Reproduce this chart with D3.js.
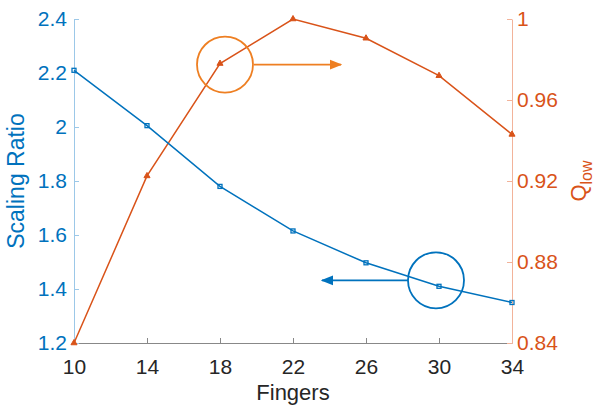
<!DOCTYPE html>
<html>
<head>
<meta charset="utf-8">
<script src="https://cdn.jsdelivr.net/npm/d3@7"></script>
<style>
  body { margin: 0; background: #fff; }
  text { font-family: "Liberation Sans", Arial, sans-serif; }
</style>
</head>
<body>
<div id="chart"></div>
<script>
const fingers = [10, 14, 18, 22, 26, 30, 34];
const scalingRatio = [2.21, 2.005, 1.78, 1.615, 1.497, 1.41, 1.35];
const qLow = [0.84, 0.9225, 0.978, 1.0, 0.9905, 0.972, 0.943];
const xTicks = [10, 14, 18, 22, 26, 30, 34];
const leftTicks = [1.2, 1.4, 1.6, 1.8, 2, 2.2, 2.4];
const rightTicks = [0.84, 0.88, 0.92, 0.96, 1];

const blue = "#0072BD", orange = "#D95319", circleOrange = "#EE7F22";
const W = 596, H = 407;
const margin = { top: 19, right: 84, bottom: 64, left: 74 };
const width = W - margin.left - margin.right;
const height = H - margin.top - margin.bottom;

const x = d3.scaleLinear().domain([10, 34]).range([0, width]);
const yL = d3.scaleLinear().domain([1.2, 2.4]).range([height, 0]);
const yR = d3.scaleLinear().domain([0.84, 1]).range([height, 0]);

const svg = d3.select("#chart").append("svg")
    .attr("width", W).attr("height", H)
  .append("g")
    .attr("transform", `translate(${margin.left},${margin.top})`);

// axes (MATLAB style, ticks inside)
const xAxis = svg.append("g")
    .attr("transform", `translate(0,${height})`)
    .call(d3.axisBottom(x).tickValues(xTicks).tickSize(-5).tickPadding(16).tickSizeOuter(0));
xAxis.select(".domain").attr("stroke", "#888");
xAxis.selectAll(".tick line").attr("stroke", "#888");
xAxis.selectAll("text").attr("fill", "#262626").style("font-size", "21px");

const lAxis = svg.append("g")
    .call(d3.axisLeft(yL).tickValues(leftTicks).tickFormat(d3.format("~g")).tickSize(-5).tickPadding(7).tickSizeOuter(0));
lAxis.select(".domain").attr("stroke", "#9cc8e8");
lAxis.selectAll(".tick line").attr("stroke", "#9cc8e8");
lAxis.selectAll("text").attr("fill", blue).style("font-size", "21px");

const rAxis = svg.append("g")
    .attr("transform", `translate(${width},0)`)
    .call(d3.axisRight(yR).tickValues(rightTicks).tickFormat(d3.format("~g")).tickSize(-5).tickPadding(5).tickSizeOuter(0));
rAxis.select(".domain").attr("stroke", "#f2b39a");
rAxis.selectAll(".tick line").attr("stroke", "#f2b39a");
rAxis.selectAll("text").attr("fill", orange).style("font-size", "21px");

// axis titles
svg.append("text")
    .attr("x", width / 2).attr("y", height + 57)
    .attr("text-anchor", "middle")
    .attr("fill", "#262626")
    .style("font-size", "22px")
    .text("Fingers");

svg.append("text")
    .attr("transform", `translate(${-50},${height / 2}) rotate(-90)`)
    .attr("text-anchor", "middle")
    .attr("fill", blue)
    .style("font-size", "23px")
    .text("Scaling Ratio");

const ql = svg.append("text")
    .attr("transform", `translate(${width + 74},${height / 2}) rotate(-90)`)
    .attr("text-anchor", "middle")
    .attr("fill", orange)
    .style("font-size", "22px");
ql.append("tspan").text("Q");
ql.append("tspan").attr("dy", 6).style("font-size", "16px").text("low");

// lines
const lineL = d3.line().x((d, i) => x(fingers[i])).y(d => yL(d));
const lineR = d3.line().x((d, i) => x(fingers[i])).y(d => yR(d));

svg.append("path").datum(qLow)
    .attr("fill", "none").attr("stroke", orange).attr("stroke-width", 1.5)
    .attr("d", lineR);
svg.selectAll(".tri").data(qLow).enter().append("path")
    .attr("class", "tri")
    .attr("transform", (d, i) => `translate(${x(fingers[i])},${yR(d)})`)
    .attr("d", d3.symbol(d3.symbolTriangle, 16))
    .attr("fill", orange).attr("stroke", orange);

svg.append("path").datum(scalingRatio)
    .attr("fill", "none").attr("stroke", blue).attr("stroke-width", 1.5)
    .attr("d", lineL);
svg.selectAll(".sq").data(scalingRatio).enter().append("rect")
    .attr("class", "sq")
    .attr("x", (d, i) => x(fingers[i]) - 2)
    .attr("y", d => yL(d) - 2)
    .attr("width", 4).attr("height", 4)
    .attr("fill", "none").attr("stroke", blue).attr("stroke-width", 1.3);

// annotations: circles and arrows
const defs = d3.select("svg").append("defs");
[["arrO", circleOrange], ["arrB", blue]].forEach(([id, c]) => {
  defs.append("marker").attr("id", id)
      .attr("viewBox", "0 0 10 10").attr("refX", 9).attr("refY", 5)
      .attr("markerWidth", 7).attr("markerHeight", 7).attr("orient", "auto")
    .append("path").attr("d", "M0,1 L10,5 L0,9 Z").attr("fill", c);
});

const cO = { fx: 18, v: qLow[2] };
svg.append("circle")
    .attr("cx", x(cO.fx) + 5).attr("cy", yR(cO.v) + 1).attr("r", 28)
    .attr("fill", "none").attr("stroke", circleOrange).attr("stroke-width", 1.8);
svg.append("line")
    .attr("x1", x(cO.fx) + 34).attr("y1", yR(cO.v) + 1)
    .attr("x2", x(cO.fx) + 121).attr("y2", yR(cO.v) + 1)
    .attr("stroke", circleOrange).attr("stroke-width", 1.8)
    .attr("marker-end", "url(#arrO)");

const cB = { fx: 30, v: scalingRatio[5] };
svg.append("circle")
    .attr("cx", x(cB.fx) - 3).attr("cy", yL(cB.v) - 6).attr("r", 28)
    .attr("fill", "none").attr("stroke", blue).attr("stroke-width", 1.8);
svg.append("line")
    .attr("x1", x(cB.fx) - 31).attr("y1", yL(cB.v) - 6)
    .attr("x2", x(cB.fx) - 117).attr("y2", yL(cB.v) - 6)
    .attr("stroke", blue).attr("stroke-width", 1.8)
    .attr("marker-end", "url(#arrB)");
</script>
</body>
</html>
